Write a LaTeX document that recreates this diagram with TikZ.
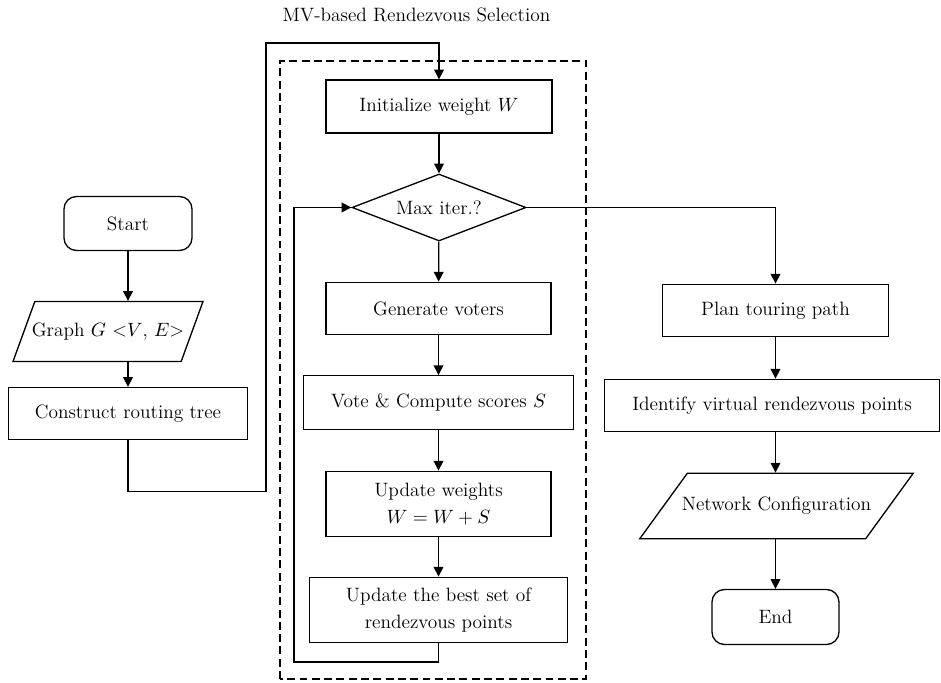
\documentclass[tikz,border=0pt]{standalone}
\usepackage{amsmath}
\usepackage{tikz}
\usetikzlibrary{arrows.meta, shapes.geometric}

\begin{document}
\begin{tikzpicture}
  [every node/.style={font=\fontsize{11}{15}\selectfont},
  proc/.style={rectangle,draw,line width=0.75pt,align=center,inner sep=2pt},
  term/.style={rectangle,rounded corners=0.25cm,draw,line width=0.75pt},
  io/.style={trapezium,draw,line width=0.75pt,trapezium stretches body=true,
    text height=0.28cm,text depth=0.09cm},
  test/.style={diamond,draw,line width=0.75pt,inner sep=0pt},
  flow/.style={line width=0.75pt,-{Triangle[length=5.5pt,width=5.5pt]}}]

\useasboundingbox (0,0) rectangle (18.82,13.64);

% Left column: input and routing tree
\node[term, minimum width=2.56cm, minimum height=1.08cm] (start) at (2.56, 9.17) {Start};
\node[io, trapezium left angle=70, trapezium right angle=110, inner xsep=-0.06cm, inner ysep=0.415cm, minimum width=3.8cm] (graph) at (2.16, 7.01) {Graph $G$ <$V$, $E$>};
\node[proc, minimum width=4.77cm, minimum height=1.04cm] (build) at (2.56, 5.37) {Construct routing tree};

% Middle column: rendezvous selection loop
\node (title) at (8.33, 13.34) {MV-based Rendezvous Selection};
\draw[dash pattern=on 4.5pt off 2.5pt, line width=0.6pt] (5.6, 0.06) rectangle (11.72, 12.42);
\node[proc, minimum width=4.52cm, minimum height=1.06cm] (init) at (8.78, 11.51) {Initialize weight $W$};
\node[test, minimum width=3.48cm, minimum height=1.34cm, aspect=2.6] (maxit) at (8.78, 9.49) {Max iter.?};
\node[proc, minimum width=4.5cm, minimum height=1.05cm] (voters) at (8.77, 7.47) {Generate voters};
\node[proc, minimum width=5.4cm, minimum height=1.07cm] (vote) at (8.77, 5.59) {Vote \& Compute scores $S$};
\node[proc, minimum width=4.5cm, minimum height=1.31cm] (update) at (8.77, 3.56) {Update weights\\$W = W + S$};
\node[proc, minimum width=5.15cm, minimum height=1.31cm] (best) at (8.77, 1.44) {Update the best set of\\rendezvous points};

% Right column: touring path and output
\node[proc, minimum width=4.51cm, minimum height=1.05cm] (tour) at (15.51, 7.43) {Plan touring path};
\node[proc, minimum width=6.71cm, minimum height=1.05cm] (virt) at (15.44, 5.53) {Identify virtual rendezvous points};
\node[io, trapezium left angle=54, trapezium right angle=126, inner xsep=-0.16cm, inner ysep=0.47cm, minimum width=5.47cm] (config) at (15.53, 3.52) {Network Configuration};
\node[term, minimum width=2.54cm, minimum height=1.1cm] (finish) at (15.51, 1.30) {End};

% Corner points of the loops
\coordinate (outer) at (5.32, 12.78);
\coordinate (back) at (5.88, 0.4);

% Arrows
\draw[flow] (start) -- (start |- graph.north);
\draw[flow] (build |- graph.south) -- (build);
\draw[flow] (build.south) -- ++(0,-1.03) -| (outer) -| (init.north);
\draw[flow] (init) -- (maxit);
\draw[flow] (maxit) -- (voters);
\draw[flow] (voters) -- (vote);
\draw[flow] (vote) -- (update);
\draw[flow] (update) -- (best);
\draw[flow] (best.south) |- (back) |- (maxit.west);
\draw[flow] (maxit.east) -| (tour.north);
\draw[flow] (tour) -- (tour |- virt.north);
\draw[flow] (virt.south -| tour) -- (tour |- config.north);
\draw[flow] (tour |- config.south) -- (finish);

\end{tikzpicture}
\end{document}
